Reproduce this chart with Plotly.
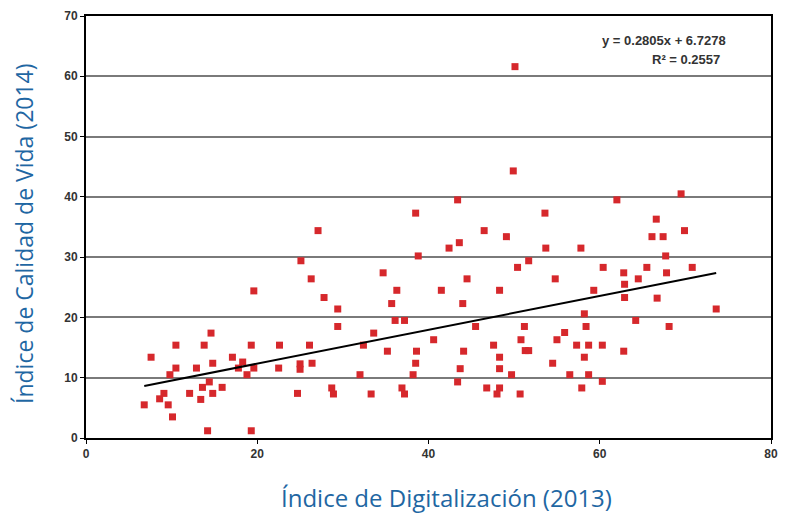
import plotly.graph_objects as go

# Índice de Digitalización (2013) vs Índice de Calidad de Vida (2014)
digitalizacion = [
    6.8, 7.6, 8.6, 9.1, 9.6, 9.8, 10.1, 10.5, 10.5, 12.1,
    12.9, 13.4, 13.6, 13.8, 14.2, 14.4, 14.6, 14.8, 14.8, 15.9,
    17.1, 17.8, 18.3, 18.8, 19.3, 19.3, 19.6, 19.6, 22.5, 22.6,
    24.7, 25.0, 25.0, 25.1, 26.1, 26.3, 26.4, 27.1, 27.8, 28.7,
    28.9, 29.4, 29.4, 32.0, 32.4, 33.3, 33.6, 34.7, 35.2, 35.7,
    36.1, 36.3, 36.9, 37.2, 37.2, 38.2, 38.5, 38.5, 38.6, 38.8,
    40.6, 41.5, 42.4, 43.4, 43.4, 43.6, 43.7, 44.0, 44.1, 44.5,
    45.5, 46.5, 46.8, 47.6, 48.0, 48.3, 48.3, 48.3, 48.3, 49.1,
    49.7, 49.9, 50.1, 50.4, 50.7, 50.8, 51.2, 51.3, 51.7, 51.7,
    53.6, 53.7, 54.5, 54.8, 55.0, 55.9, 56.5, 57.3, 57.8, 57.9,
    58.2, 58.2, 58.4, 58.7, 58.7, 59.3, 60.3, 60.3, 60.4, 62.0,
    62.8, 62.8, 62.9, 62.9, 64.2, 64.5, 65.5, 66.1, 66.6, 66.7,
    67.4, 67.7, 67.8, 68.1, 69.5, 69.9, 70.8, 73.6,
]
calidad_vida = [
    5.5, 13.4, 6.5, 7.4, 5.5, 10.5, 3.5, 15.4, 11.6, 7.4,
    11.6, 6.4, 8.4, 15.4, 1.2, 9.3, 17.4, 12.4, 7.4, 8.4,
    13.4, 11.6, 12.6, 10.5, 15.4, 1.2, 11.6, 24.4, 11.6, 15.4,
    7.4, 12.3, 11.4, 29.4, 15.4, 26.4, 12.4, 34.4, 23.3, 8.3,
    7.3, 21.4, 18.5, 10.5, 15.4, 7.3, 17.4, 27.4, 14.4, 22.3,
    19.5, 24.5, 8.3, 7.3, 19.5, 10.5, 37.3, 12.4, 14.4, 30.2,
    16.3, 24.5, 31.5, 39.5, 9.3, 32.4, 11.5, 22.3, 14.4, 26.4,
    18.5, 34.4, 8.3, 15.4, 7.3, 24.5, 13.4, 11.5, 8.3, 33.4,
    10.5, 44.3, 61.6, 28.3, 7.3, 16.3, 18.5, 14.5, 14.5, 29.4,
    37.3, 31.5, 12.4, 26.4, 16.3, 17.5, 10.5, 15.4, 31.5, 8.3,
    20.6, 13.4, 18.5, 15.4, 10.5, 24.5, 9.4, 15.4, 28.3, 39.5,
    27.4, 14.4, 25.5, 23.3, 19.5, 26.4, 28.3, 33.4, 36.3, 23.2,
    33.4, 30.2, 27.4, 18.5, 40.5, 34.4, 28.3, 21.4,
]

# linea de tendencia, tal como aparece en el grafico
pendiente = 0.2805
intercepto = 6.7278
r2 = 0.2557

x_tend = [min(digitalizacion), max(digitalizacion)]
y_tend = [pendiente * v + intercepto for v in x_tend]

AZUL = "#1f67a3"
GRIS_TEXTO = "#333333"

# tamaño de la figura y margenes (px)
ANCHO, ALTO = 778, 506
M_IZQ, M_DER, M_SUP, M_INF = 78, 15, 8, 76
AREA_W = ANCHO - M_IZQ - M_DER
AREA_H = ALTO - M_SUP - M_INF


def papel(px, py):
    # pasa pixeles de la figura a coordenadas "paper"
    return (px - M_IZQ) / AREA_W, (ALTO - M_INF - py) / AREA_H


fig = go.Figure()
fig.add_trace(go.Scatter(
    x=digitalizacion, y=calidad_vida, mode="markers",
    marker=dict(symbol="square", size=7, color="#d6282c",
                line=dict(width=0)),
    showlegend=False, hoverinfo="x+y",
))
fig.add_trace(go.Scatter(
    x=x_tend, y=y_tend, mode="lines",
    line=dict(color="black", width=2),
    showlegend=False, hoverinfo="skip",
))

eje_comun = dict(
    showline=True, linecolor="black", linewidth=2, mirror=True,
    ticks="outside", ticklen=4, tickcolor="black", tickwidth=1,
    tickfont=dict(family="Liberation Sans", size=12, color=GRIS_TEXTO,
                  weight="bold"),
    zeroline=False,
)

fig.update_xaxes(range=[0, 80], tick0=0, dtick=20, showgrid=False, **eje_comun)
fig.update_yaxes(range=[0, 70], tick0=0, dtick=10, showgrid=True,
                 gridcolor="#7a7a7a", gridwidth=2, **eje_comun)

tx, ty = papel(439, 489)
yx, yy = papel(16, 226)
e1x, e1y = papel(720, 32)
e2x, e2y = papel(714, 51)

fig.update_layout(
    width=ANCHO, height=ALTO,
    margin=dict(l=M_IZQ, r=M_DER, t=M_SUP, b=M_INF, autoexpand=False),
    plot_bgcolor="white", paper_bgcolor="white",
    font=dict(family="Liberation Sans"),
    annotations=[
        dict(x=tx, y=ty, xref="paper", yref="paper", xanchor="center",
             yanchor="middle", showarrow=False,
             text="Índice de Digitalización (2013)",
             font=dict(family="Open Sans", size=24, color=AZUL)),
        dict(x=yx, y=yy, xref="paper", yref="paper", xanchor="center",
             yanchor="middle", showarrow=False, textangle=-90, borderpad=0,
             text="Índice de Calidad de Vida (2014)",
             font=dict(family="Open Sans", size=23, color=AZUL)),
        dict(x=e1x, y=e1y, xref="paper", yref="paper", xanchor="right",
             yanchor="middle", showarrow=False,
             text=f"<b>y = {pendiente}x + {intercepto}</b>",
             font=dict(size=13, color=GRIS_TEXTO)),
        dict(x=e2x, y=e2y, xref="paper", yref="paper", xanchor="right",
             yanchor="middle", showarrow=False,
             text=f"<b>R² = {r2}</b>",
             font=dict(size=13, color=GRIS_TEXTO)),
    ],
)

fig.write_html("out.html")
